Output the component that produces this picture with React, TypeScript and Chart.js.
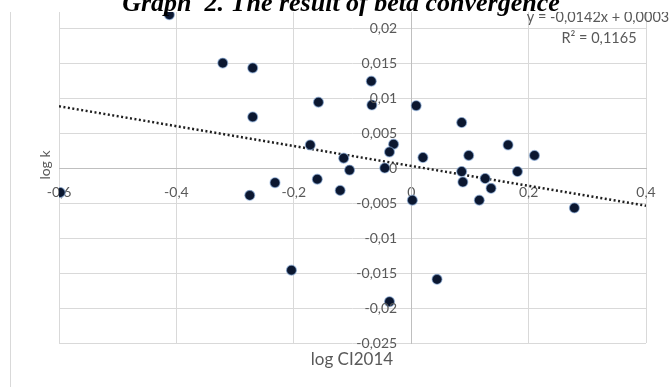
import React, { useEffect, useRef } from "react";
import { Chart, registerables } from "chart.js";

Chart.register(...registerables);

// log CI2014 (x) and log k (y) for each observation
const ciX = [
  -0.412, -0.321, -0.270, -0.158, -0.270, -0.172, -0.232, -0.160, -0.275, -0.598,
  -0.121, -0.068, -0.067, 0.0085, 0.086, -0.030, -0.037, -0.115, 0.020, 0.098,
  0.165, 0.210, -0.105, -0.045, 0.086, 0.088, 0.126, 0.136, 0.181, 0.116,
  0.002, 0.278, 0.044, -0.037, -0.204,
];
const logK = [
  0.0219, 0.0150, 0.0143, 0.0094, 0.0073, 0.0033, -0.0021, -0.0016, -0.0039, -0.0035,
  -0.0032, 0.0124, 0.0090, 0.0089, 0.0065, 0.0034, 0.0023, 0.0014, 0.0015, 0.0018,
  0.0033, 0.0018, -0.0003, 0.0000, -0.0005, -0.0020, -0.0015, -0.0029, -0.0005, -0.0046,
  -0.0046, -0.0057, -0.0159, -0.0191, -0.0146,
];

// linear trend line end points (y = -0,0142x + 0,0003)
const trendX = [-0.6, 0.4];
const trendY = [0.00882, -0.00538];

const xTicks = [-0.6, -0.4, -0.2, 0, 0.2, 0.4];
const yTicks = [-0.025, -0.02, -0.015, -0.01, -0.005, 0, 0.005, 0.01, 0.015, 0.02];

const titleText = "Graph  2. The result of beta convergence";
const eqText = "y = -0,0142x + 0,0003";
const r2Text = "R² = 0,1165";
const xTitle = "log CI2014";
const yTitle = "log k";

const fmt = (v: number) => Number(v.toFixed(4)).toString().replace(".", ",");

const decorPlugin = {
  id: "decor",
  beforeDraw(chart: any) {
    const ctx = chart.ctx;
    ctx.save();
    ctx.fillStyle = "#ffffff";
    ctx.fillRect(0, 0, chart.width, chart.height);
    ctx.restore();
  },
  afterDraw(chart: any) {
    const ctx = chart.ctx;
    const xs = chart.scales.x;
    const ys = chart.scales.y;
    ctx.save();
    // y tick labels, placed left of the y axis (which crosses at x = 0)
    const axisX = xs.getPixelForValue(0);
    ctx.fillStyle = "#595959";
    ctx.font = "14px Lato";
    ctx.textAlign = "right";
    ctx.textBaseline = "middle";
    ys.ticks.forEach((t: any) => {
      ctx.fillText(fmt(t.value), axisX - 14, ys.getPixelForValue(t.value) + 0.5);
    });
    // trend equation labels
    ctx.font = "14.5px Lato";
    ctx.textAlign = "center";
    ctx.textBaseline = "alphabetic";
    ctx.fillText(eqText, 598, 21.5);
    ctx.fillText(r2Text, 599, 43);
    // cropped top band
    ctx.fillStyle = "#ffffff";
    ctx.fillRect(0, 0, chart.width, 12);
    // chart border on the left
    ctx.strokeStyle = "#d9d9d9";
    ctx.lineWidth = 1;
    ctx.beginPath();
    ctx.moveTo(10.5, 12);
    ctx.lineTo(10.5, chart.height);
    ctx.stroke();
    // title
    ctx.fillStyle = "#000000";
    ctx.font = "bold italic 26px 'Liberation Serif'";
    ctx.textAlign = "center";
    ctx.fillText(titleText, 341, 11);
    // axis titles
    ctx.fillStyle = "#595959";
    ctx.font = "17px Lato";
    ctx.textBaseline = "middle";
    ctx.fillText(xTitle, 352, 360);
    ctx.translate(45, 165);
    ctx.rotate(-Math.PI / 2);
    ctx.font = "14px Lato";
    ctx.fillText(yTitle, 0, 0);
    ctx.restore();
  },
};

export default function App() {
  const ref = useRef<HTMLCanvasElement | null>(null);
  useEffect(() => {
    if (!ref.current) return;
    const points = ciX.map((x, i) => ({ x, y: logK[i] }));
    const trend = trendX.map((x, i) => ({ x, y: trendY[i] }));
    const chart = new Chart(ref.current, {
      type: "scatter",
      data: {
        datasets: [
          {
            label: "log k",
            data: points,
            order: 0,
            pointRadius: 5,
            pointHoverRadius: 5,
            backgroundColor: "#0b1730",
            borderColor: "rgba(140,175,220,0.6)",
            borderWidth: 1.2,
          },
          {
            label: "trend",
            data: trend,
            order: 1,
            showLine: true,
            pointRadius: 0,
            borderColor: "#1f1f1f",
            borderWidth: 2.5,
            borderDash: [2, 2.5],
            fill: false,
          } as any,
        ],
      },
      options: {
        responsive: false,
        animation: false,
        events: [],
        layout: { padding: { left: 59, right: 23, top: 12, bottom: 44 } },
        plugins: { legend: { display: false }, tooltip: { enabled: false }, title: { display: false } },
        scales: {
          x: {
            type: "linear",
            position: { y: 0 } as any,
            min: -0.6,
            max: 0.4,
            afterBuildTicks: (s: any) => {
              s.ticks = xTicks.map((v) => ({ value: v }));
            },
            ticks: {
              padding: 0,
              color: "#595959",
              font: { family: "Lato", size: 14 },
              maxRotation: 0,
              autoSkip: false,
              callback: (v: any) => fmt(Number(v)),
            },
            grid: { color: "#d9d9d9", lineWidth: 1, drawTicks: true, tickLength: 16, tickColor: "rgba(0,0,0,0)" },
            border: { display: true, color: "#bfbfbf", width: 1 },
          },
          y: {
            type: "linear",
            position: { x: 0 } as any,
            min: -0.025,
            max: 0.02229,
            afterBuildTicks: (s: any) => {
              s.ticks = yTicks.map((v) => ({ value: v }));
            },
            ticks: { display: false, padding: 0 },
            grid: { color: "#d9d9d9", lineWidth: 1, drawTicks: false },
            border: { display: true, color: "#bfbfbf", width: 1 },
          },
        },
      },
      plugins: [decorPlugin],
    });
    return () => chart.destroy();
  }, []);
  return (
    <div style={{ position: "absolute", left: 0, top: 0, width: 669, height: 387, background: "#fff" }}>
      <canvas ref={ref} width={669} height={387} />
    </div>
  );
}
